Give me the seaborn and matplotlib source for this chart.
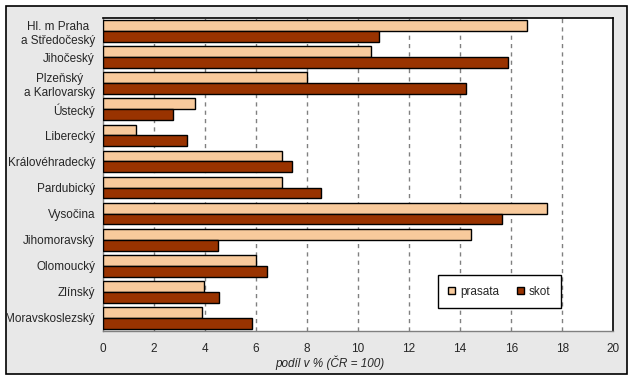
import pandas as pd
import numpy as np
import matplotlib
matplotlib.use('Agg')
import matplotlib.pyplot as plt
import seaborn as sns
from matplotlib.patches import Rectangle

# data
regions = ['Hl. m Praha\na Středočeský', 'Jihočeský', 'Plzeňský\na Karlovarský',
           'Ústecký', 'Liberecký', 'Královéhradecký', 'Pardubický', 'Vysočina',
           'Jihomoravský', 'Olomoucký', 'Zlínský', 'Moravskoslezský']
prasata = [16.63, 10.52, 8.01, 3.63, 1.32, 7.01, 7.04, 17.42, 14.41, 6.02, 3.98, 3.88]
skot = [10.83, 15.86, 14.22, 2.77, 3.31, 7.43, 8.55, 15.63, 4.50, 6.45, 4.57, 5.84]
series = ['prasata', 'skot']
colors = ['#F8CA9C', '#993300']
x_ticks = [0, 2, 4, 6, 8, 10, 12, 14, 16, 18, 20]
x_label = 'podíl v % (ČR = 100)'

df = pd.DataFrame({
    'kraj': regions * 2,
    'podil': prasata + skot,
    'druh': [series[0]] * len(regions) + [series[1]] * len(regions),
})

sns.set_style('white')
plt.rcParams['font.family'] = ['Liberation Sans', 'DejaVu Sans']
plt.rcParams['font.size'] = 8.5

fig = plt.figure(figsize=(6.34, 3.8), dpi=100, facecolor='white')

# gray chart area with black frame
W, H = 634, 380
bg = Rectangle((5.7 / W, 1 - 373.7 / H), (627.3 - 5.7) / W, (373.7 - 5.7) / H,
               transform=fig.transFigure, facecolor='#E8E8E8', edgecolor='black',
               linewidth=1.2, zorder=-10)
fig.patches.append(bg)

ax = fig.add_axes([102.7 / W, 1 - 330.7 / H, (613.3 - 102.7) / W, (330.7 - 18.3) / H])
ax.set_facecolor('white')

sns.barplot(data=df, y='kraj', x='podil', hue='druh', orient='h',
            palette=colors, saturation=1, width=0.84, edgecolor='black', linewidth=1,
            order=regions, hue_order=series, ax=ax, zorder=3)

ax.set_xlim(0, 20)
ax.set_ylim(len(regions) - 0.5, -0.5)
ax.set_xticks(x_ticks)
ax.set_xticklabels([str(t) for t in x_ticks])
for t in x_ticks[1:-1]:
    ax.axvline(t, color='#808080', linestyle=(0, (3, 3)), linewidth=1, zorder=1)

ax.set_yticks(range(len(regions)))
ax.set_yticklabels(regions, multialignment='center')
ax.set_yticks(np.arange(-0.5, len(regions)), minor=True)
ax.tick_params(axis='y', which='major', length=0, pad=5.5)
ax.tick_params(axis='y', which='minor', length=4, color='#808080', direction='out')
ax.tick_params(axis='x', length=4, color='#808080', direction='out', pad=4.5)
for lab in ax.get_yticklabels():
    lab.set_horizontalalignment('right')

ax.set_xlabel('')
ax.set_ylabel('')
for side in ['top', 'right']:
    ax.spines[side].set_color('black')
    ax.spines[side].set_linewidth(1.2)
for side in ['left', 'bottom']:
    ax.spines[side].set_color('#808080')
    ax.spines[side].set_linewidth(1)
for sp in ax.spines.values():
    sp.set_visible(True)

fig.text(330 / W, 1 - 363 / H, x_label, ha='center', va='center',
         fontstyle='italic', fontsize=8.5)

handles, labels = ax.get_legend_handles_labels()
ax.legend(handles, labels, ncol=2, loc='center',
          bbox_to_anchor=(499.3 / W, 1 - 291.6 / H), bbox_transform=fig.transFigure,
          frameon=True, fancybox=False, framealpha=1, edgecolor='black',
          handlelength=0.6, handleheight=0.6, handletextpad=0.4, columnspacing=1.5,
          borderpad=0.9, fontsize=8.5)
ax.get_legend().get_frame().set_linewidth(1)

fig.savefig('out.png', dpi=100, facecolor='white')
